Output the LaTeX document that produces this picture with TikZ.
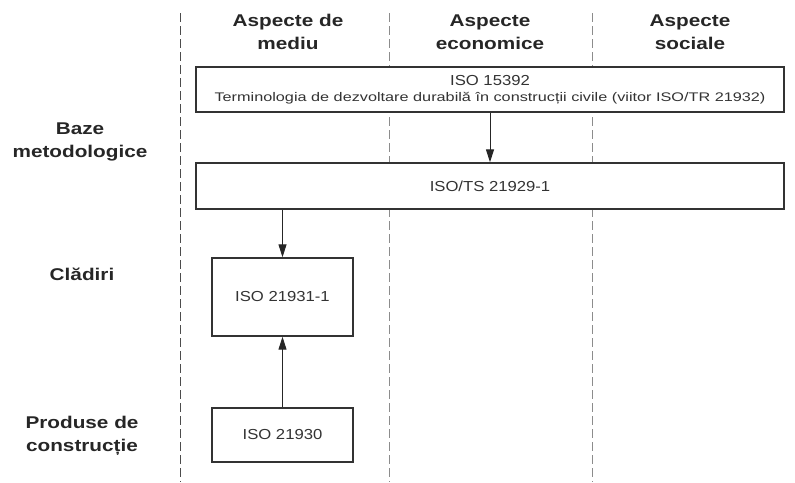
\documentclass[tikz,border=0pt]{standalone}
\usepackage{fontspec}
\setmainfont{Liberation Sans}
\newfontfamily\hdrfont[FakeStretch=1.22]{Liberation Sans}
\newfontfamily\boxfont[FakeStretch=1.15]{Liberation Sans}
\newfontfamily\termfont[FakeStretch=1.3]{Liberation Sans}
\usetikzlibrary{arrows.meta}
\begin{document}
\begin{tikzpicture}[x=1pt,y=-1pt,
  hdr/.style={font=\hdrfont\fontsize{17}{23}\selectfont\bfseries, text=black!85, align=center, inner sep=0pt},
  boxn/.style={draw=black!80, line width=1.4pt, fill=white, font=\boxfont\fontsize{14.5}{17}\selectfont, text=black!80, align=center, inner sep=0pt},
  sep/.style={dash pattern=on 9pt off 4pt, line width=1pt},
  arr/.style={-{Triangle[length=13pt,width=8pt]}, line width=1pt, draw=black!85}]
\useasboundingbox (0,0) rectangle (795,482);
% column separators
\coordinate (s1t) at (180,13); \coordinate (s1b) at (180,482);
\coordinate (s2t) at (389,13); \coordinate (s2b) at (389,482);
\coordinate (s3t) at (592,13); \coordinate (s3b) at (592,482);
\draw[sep, draw=black!70] (s1t) -- (s1b);
\draw[sep, draw=black!45] (s2t) -- (s2b);
\draw[sep, draw=black!45] (s3t) -- (s3b);
% headers
\node[hdr] (h1) at (288,32) {Aspecte de\\mediu};
\node[hdr] (h2) at (490,32) {Aspecte\\economice};
\node[hdr] (h3) at (690,32) {Aspecte\\sociale};
% row labels
\node[hdr] (r1) at (80,142) {Baze\\metodologice};
\node[hdr] (r2) at (82,274) {Clădiri};
\node[hdr] (r3) at (82,436) {Produse de\\construcție};
% boxes
\node[boxn, minimum width=588pt, minimum height=45pt] (b1) at (490,89.5)
  {ISO 15392\\[-1pt]{\termfont\fontsize{12.5}{15}\selectfont Terminologia de dezvoltare durabilă în construcții civile (viitor ISO/TR 21932)}};
\node[boxn, minimum width=588pt, minimum height=46pt] (b2) at (490,186) {ISO/TS 21929-1};
\node[boxn, minimum width=141pt, minimum height=78pt] (b3) at (282.5,297) {ISO 21931-1};
\node[boxn, minimum width=141pt, minimum height=54pt] (b4) at (282.5,435) {ISO 21930};
% arrows
\draw[arr] (b1.south) -- (b2.north);
\draw[arr] (b2.south west -| b3.north) -- (b3.north);
\draw[arr] (b4.north) -- (b3.south);
\end{tikzpicture}
\end{document}
